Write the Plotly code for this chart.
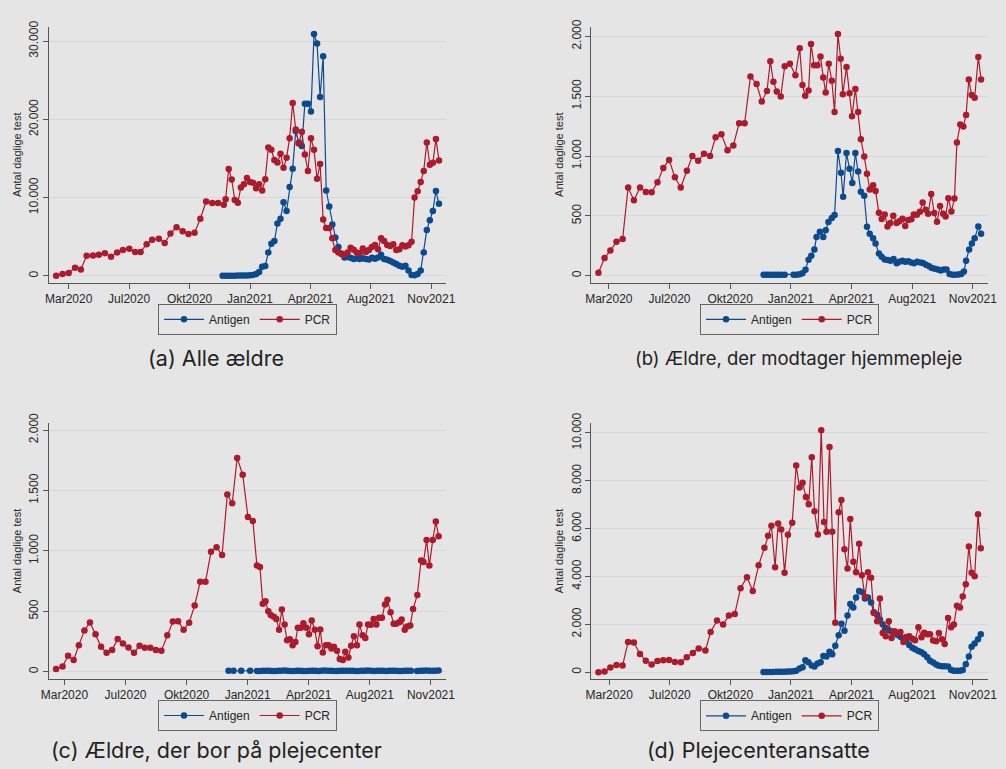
import plotly.graph_objects as go

# ---------------- data (period index on a common time scale) ----------------
TICK_POS = [0.5, 20.33, 40.17, 60.0, 79.83, 99.67, 119.5]
TICK_TXT = ["Mar2020", "Jul2020", "Okt2020", "Jan2021", "Apr2021", "Aug2021", "Nov2021"]
SERIES_NAMES = ["Antigen", "PCR"]
Y_TITLE = "Antal daglige test"
CAPTIONS = ["(a) Alle ældre", "(b) Ældre, der modtager hjemmepleje",
            "(c) Ældre, der bor på plejecenter", "(d) Plejecenteransatte"]

# (a) Alle ældre
ag_a_x = list(range(51, 123))
ag_a = [30, 30, 30, 30, 30, 40, 40, 50, 60, 80, 120, 250,
        500, 1150, 1250, 3000, 4100, 4450, 6700, 7300,
        9400, 8300, 11350, 13700, 18500, 17000, 16600, 22000, 22000, 21000,
        30900, 29700, 22850, 28050, 10900, 8850, 6550, 4900, 3700, 2800,
        2350, 2400, 2300, 2150, 2250, 2150, 2250, 2150, 2100, 2300,
        2200, 2350, 2700, 2150, 2050, 1900, 1720, 1500, 1300, 1180,
        1300, 670, 100, 80, 250, 700, 3000, 5850, 7100, 8300,
        10850, 9200]
pcr_a_x = [-3.6, -1.5, 0.5, 2.6, 4.5, 6.4, 8.5, 10.4, 12.4, 14.4, 16.4, 18.3, 20.4, 22.3,
           24.1, 26.1, 27.9, 30.1, 32.0, 33.9, 35.9, 37.9, 39.8, 41.8, 43.7, 45.6, 47.6,
           49.5, 51.4] + list(range(52, 123))
pcr_a = [0, 250, 380, 1050, 800, 2560, 2600, 2700, 2900, 2450, 3000, 3300, 3450, 3050,
         3050, 4050, 4600, 4750, 4200, 5400, 6200, 5700, 5350, 5500, 7300, 9500, 9300,
         9300, 9100,
         9800, 13650, 12300, 9700, 9350, 11300, 11700, 12500, 12000, 11900,
         11200, 11700, 10900, 12350, 16400, 16100, 14800, 14500, 15600, 13800,
         15100, 17600, 22100, 18700, 16900, 18400, 15500, 13400, 17600, 16100,
         12400, 14300, 7200, 6100, 6100, 4800, 3300, 3000, 2850, 2700,
         3000, 3600, 3350, 3000, 2900, 3500, 3050, 3300, 3700, 3950,
         3400, 4800, 4450, 3950, 3800, 4050, 3300, 3400, 3900, 3750,
         3900, 4350, 10000, 10800, 12000, 13400, 17050, 14200, 14450, 17500,
         14750]

# (b) Ældre, der modtager hjemmepleje
ag_b_x = [51.1, 52.1, 53.0, 54.0, 55.0, 55.9, 56.9, 58.0,
          60.9, 61.9, 62.9, 63.8, 64.8, 65.8, 66.7, 67.7, 68.4, 69.5,
          70.6, 71.4, 72.3, 73.4, 74.3, 75.4, 76.4, 77.1, 78.2, 79.2,
          80.1, 81.1, 82.0, 82.9, 84.0, 84.9, 85.8, 86.9, 87.7, 88.8,
          89.7, 90.7, 91.7, 92.6, 93.6, 94.6, 95.5, 96.5, 97.4, 98.4,
          99.4, 100.3, 101.3, 102.3, 103.2, 104.2, 105.2, 106.1, 107.1, 108.1,
          109.0, 110.0, 110.9, 111.9, 112.9, 113.8, 114.8, 115.7, 116.6, 117.3,
          118.3, 119.2, 120.1, 121.3, 122.2]
ag_b = [8, 8, 8, 8, 8, 8, 8, 8,
        8, 8, 14, 22, 50, 135, 167, 220, 324, 368,
        324, 381, 450, 483, 507, 1042, 861, 661, 1026, 894,
        776, 1026, 872, 702, 669, 409, 351, 313, 269, 187,
        159, 137, 132, 126, 140, 104, 118, 126, 118, 121,
        112, 104, 118, 112, 107, 93, 80, 66, 58, 52,
        44, 52, 52, 16, 8, 8, 11, 16, 36, 126,
        220, 269, 313, 411, 351]
pcr_b_x = [-2.9, -0.9, 1.0, 3.0, 5.0, 6.8, 8.7, 10.7, 12.6, 14.5,
           16.4, 18.3, 20.2, 22.1, 24.0, 26.0, 27.8, 29.7, 31.6, 33.6,
           35.4, 37.3, 39.3, 41.2, 43.1, 44.9, 46.8, 48.8, 50.5, 52.2,
           53.3, 54.3, 55.4, 56.7, 58.0, 59.7, 61.5, 62.9, 63.8, 64.7,
           65.8, 66.6, 67.6, 68.7, 69.7, 70.6, 71.4, 72.4, 73.4, 74.3,
           75.4, 76.3, 77.0, 78.2, 79.2, 80.0, 81.1, 82.0, 82.9, 84.0,
           84.9, 85.8, 86.9, 87.7, 88.8, 89.7, 90.7, 91.6, 92.5, 93.5,
           94.6, 95.5, 96.5, 97.4, 98.4, 99.4, 100.2, 101.2, 102.2, 103.1,
           104.1, 104.9, 105.9, 106.9, 107.8, 108.8, 109.8, 110.6, 111.5, 112.5,
           113.5, 114.3, 115.4, 116.4, 117.3, 118.2, 119.1, 120.1, 121.3, 122.2]
pcr_b = [25, 148, 211, 285, 307, 738, 631, 738, 700, 697,
         782, 900, 968, 823, 738, 878, 1001, 960, 1020, 1001,
         1157, 1182, 1048, 1089, 1275, 1275, 1665, 1602, 1456, 1544,
         1791, 1621, 1539, 1498, 1750, 1772, 1676, 1901, 1594, 1503,
         1547, 1937, 1758, 1758, 1832, 1657, 1531, 1772, 1629, 1369,
         2019, 1813, 1517, 1745, 1525, 1333, 1561, 1369, 1141, 996,
         853, 721, 757, 708, 527, 475, 513, 411, 442, 502,
         442, 455, 477, 417, 466, 472, 513, 510, 535, 612,
         551, 518, 683, 524, 452, 582, 518, 496, 647, 538,
         645, 1114, 1264, 1248, 1344, 1640, 1511, 1487, 1827, 1640]

# (c) Ældre, der bor på plejecenter
ag_c_x = [53.8, 55.4, 57.9, 60.8] + list(range(63, 114)) + list(range(115, 123))
ag_c = [8, 8, 8, 8,
        6, 7, 8, 8, 9, 7, 6, 8, 9, 10,
        8, 7, 7, 9, 8, 6, 7, 8, 9, 8,
        7, 8, 10, 9, 8, 7, 6, 8, 9, 8,
        8, 9, 7, 6, 8, 9, 10, 8, 7, 8,
        9, 8, 7, 8, 9, 8, 7, 6, 8, 9,
        8,
        7, 8, 9, 10, 9, 8, 9, 10]
pcr_c_x = [-2.2, -0.1, 1.7, 3.5, 5.2, 7.0, 8.8, 10.6, 12.4, 14.2,
           16.0, 17.8, 19.5, 21.3, 23.1, 24.9, 26.6, 28.4, 30.2, 32.0,
           33.9, 35.7, 37.4, 39.2, 41.0, 42.8, 44.6, 46.3, 48.1, 49.9,
           51.7, 53.4, 55.0, 56.6, 58.4, 60.1, 61.7, 63.0, 64.0, 64.9,
           65.8, 66.7, 67.5, 68.5, 69.3, 70.2, 71.1, 72.0, 72.8, 73.7,
           74.6, 75.5, 76.3, 77.3, 78.1, 79.1, 79.9, 80.8, 81.8, 82.7,
           83.6, 84.4, 85.4, 86.3, 87.2, 88.0, 89.0, 89.9, 90.9, 91.7,
           92.7, 93.6, 94.5, 95.5, 96.3, 97.3, 98.2, 99.1, 100.0, 100.9,
           101.8, 102.7, 103.6, 104.6, 105.4, 106.4, 107.4, 108.2, 109.2, 110.0,
           111.0, 111.8, 112.8, 113.7, 115.1, 116.3, 117.1, 118.1, 119.0, 120.1,
           121.1, 122.0]
pcr_c = [22, 43, 133, 98, 220, 342, 408, 310, 206, 158,
         179, 272, 234, 201, 158, 215, 198, 198, 179, 174,
         302, 416, 418, 348, 405, 549, 744, 744, 992, 1030,
         965, 1467, 1394, 1769, 1630, 1280, 1247, 880, 867, 562,
         584, 500, 470, 456, 437, 348, 514, 391, 261, 269,
         220, 247, 364, 364, 402, 364, 310, 424, 348, 212,
         350, 160, 220, 220, 193, 206, 174, 106, 98, 166,
         117, 215, 293, 220, 391, 302, 280, 391, 389, 437,
         391, 446, 446, 557, 595, 492, 397, 397, 410, 432,
         348, 375, 383, 519, 636, 921, 907, 1090, 880, 1090,
         1242, 1122]

# (d) Plejecenteransatte
ag_d_x = [51.0, 52.0, 53.0, 53.9, 55.0, 56.0, 56.9, 57.9, 58.9, 59.8, 60.8,
          61.7, 62.8, 63.8, 64.7, 65.7, 66.8, 67.7, 68.7, 69.7,
          70.6, 71.6, 72.6, 73.5, 74.5, 75.6, 76.5, 77.5, 78.5, 79.4,
          80.4, 81.3, 82.3, 83.2, 84.2, 85.2, 86.2, 87.1,
          88.2, 89.1, 90.0, 91.0, 92.0, 92.9, 93.9, 94.8, 95.8, 96.8,
          97.7, 98.7, 99.7, 100.6, 101.7, 102.7, 103.6, 104.6, 105.5, 106.5,
          107.5, 108.4, 109.4, 110.3, 111.4, 112.4, 113.3, 114.3, 115.3, 116.2,
          117.2, 118.2, 119.1, 120.1, 121.2, 122.1]
ag_d = [10, 10, 10, 10, 15, 15, 15, 20, 25, 30, 40,
        60, 150, 205, 500, 410, 275, 240, 357, 410,
        675, 650, 850, 750, 1100, 1540, 2020, 1730, 2365, 2845,
        2705, 3120, 3395, 3355, 3080, 3120, 2910, 2500,
        2400, 2200, 2000, 1850, 1750, 1700, 1650, 1560, 1480, 1400,
        1300, 1130, 1020, 960, 880, 830, 750, 620, 480, 400,
        320, 270, 250, 245, 240, 90, 55, 55, 60, 90,
        330, 650, 1060, 1200, 1380, 1580]
pcr_d_x = [-3.0, -1.0, 0.9, 2.9, 4.9, 6.7, 8.6, 10.6, 12.5, 14.4,
           16.3, 18.2, 20.1, 22.0, 24.0, 25.9, 27.9, 29.8, 32.0,
           33.7, 35.8, 37.8, 39.7, 41.6, 43.5, 45.6, 47.5, 49.4, 51.3,
           52.5, 53.6, 54.8, 55.8, 56.8, 57.9, 59.0, 60.4, 61.7, 62.8,
           63.8, 64.9, 65.8, 66.8, 67.7, 68.8, 69.9, 70.8, 71.6, 72.6,
           73.5, 74.5, 75.6, 76.5, 77.5, 78.5, 79.4, 80.4, 81.3, 82.3,
           83.2, 84.2, 85.2, 86.2, 87.1, 88.2, 89.1, 90.0, 91.0, 92.0,
           92.9, 93.9, 94.8, 95.8, 96.8, 97.7, 98.7, 99.7, 100.6, 101.7,
           102.7, 103.6, 104.6, 105.5, 106.5, 107.5, 108.4, 109.4, 110.3, 111.4,
           112.4, 113.3, 114.3, 115.3, 116.2, 117.2, 118.2, 119.1, 120.1, 121.2,
           122.1]
pcr_d = [0, 30, 190, 300, 275, 1265, 1235, 755, 480, 315,
         465, 495, 510, 425, 410, 620, 800, 990, 905,
         1675, 2155, 1990, 2365, 2430, 3505, 3970, 3395, 4465, 5195,
         5700, 6115, 4385, 6210, 5965, 4150, 5745, 6250, 8640, 7720,
         7915, 7325, 7020, 8985, 6730, 5755, 10110, 6280, 5865, 9410,
         5865, 2060, 6680, 7200, 5140, 4330, 6400, 4615, 4175, 5370,
         4055, 3150, 4175, 3945, 2475, 2130, 3080, 1635, 1500, 2130,
         1430, 1705, 1635, 1675, 1265, 1470, 1500, 1400, 1330, 1880,
         1455, 1650, 1580, 1580, 1320, 1290, 1635, 1375, 1180, 2265,
         1880, 1990, 2775, 2705, 3160, 3670, 5250, 4150, 4010, 6595,
         5180]

for xs, ys in [(ag_a_x, ag_a), (pcr_a_x, pcr_a), (ag_b_x, ag_b), (pcr_b_x, pcr_b),
               (ag_c_x, ag_c), (pcr_c_x, pcr_c), (ag_d_x, ag_d), (pcr_d_x, pcr_d)]:
    assert len(xs) == len(ys), (len(xs), len(ys))

# ---------------- styling ----------------
BG = "#e5e5e5"
GRID = "#d3d9da"
AXIS = "#555555"
TXT = "#262626"
BLUE = "#0c4a8e"
RED = "#ad1a2c"
FONT = "Liberation Sans, Arial, sans-serif"

panels = [
    dict(n="", xdom=[0.0415, 0.4430], ydom=[0.6415, 0.9792], xr=[-5.95, 124.2],
         yr=[-880, 31830], dtick=10000, ag=(ag_a_x, ag_a), pcr=(pcr_a_x, pcr_a),
         leg=(0.2424, 0.5932), cap=(0.2105, 0.5423), capsize=21.5),
    dict(n="2", xdom=[0.5905, 0.9917], ydom=[0.6415, 0.9792], xr=[-5.2, 124.4],
         yr=[-58, 2080], dtick=500, ag=(ag_b_x, ag_b), pcr=(pcr_b_x, pcr_b),
         leg=(0.7910, 0.5932), cap=(0.7997, 0.5423), capsize=18.5),
    dict(n="3", xdom=[0.0415, 0.4430], ydom=[0.1192, 0.4560], xr=[-4.5, 124.3],
         yr=[-57, 2055], dtick=500, ag=(ag_c_x, ag_c), pcr=(pcr_c_x, pcr_c),
         leg=(0.2424, 0.0706), cap=(0.2107, 0.0247), capsize=21.5),
    dict(n="4", xdom=[0.5905, 0.9917], ydom=[0.1192, 0.4560], xr=[-5.3, 124.4],
         yr=[-272, 10400], dtick=2000, ag=(ag_d_x, ag_d), pcr=(pcr_d_x, pcr_d),
         leg=(0.7910, 0.0702), cap=(0.7594, 0.0247), capsize=21.5),
]

fig = go.Figure()
layout = dict(
    width=1006, height=769, margin=dict(l=0, r=0, t=0, b=0),
    paper_bgcolor=BG, plot_bgcolor=BG, separators=",.",
    font=dict(family=FONT, size=12, color=TXT), showlegend=True,
    annotations=[],
)

for i, p in enumerate(panels):
    n = p["n"]
    legname = "legend" + n
    for name, (xs, ys), col in [(SERIES_NAMES[0], p["ag"], BLUE), (SERIES_NAMES[1], p["pcr"], RED)]:
        fig.add_trace(go.Scatter(
            x=xs, y=ys, name=name, mode="lines+markers",
            line=dict(color=col, width=1.2),
            marker=dict(color=col, size=6.5),
            xaxis="x" + n, yaxis="y" + n, legend=legname,
        ))
    layout["xaxis" + n] = dict(
        domain=p["xdom"], range=p["xr"], anchor="y" + n,
        tickmode="array", tickvals=TICK_POS, ticktext=TICK_TXT,
        showgrid=False, zeroline=False, showline=True, linecolor=AXIS, linewidth=1,
        ticks="outside", ticklen=5, tickcolor=AXIS, tickfont=dict(size=12, color=TXT),
    )
    layout["yaxis" + n] = dict(
        domain=p["ydom"], range=p["yr"], anchor="x" + n,
        tickmode="linear", tick0=0, dtick=p["dtick"], tickformat=",d",
        tickangle=-90, showgrid=True, gridcolor=GRID, gridwidth=1,
        zeroline=False, showline=True, linecolor=AXIS, linewidth=1,
        ticks="outside", ticklen=5, tickcolor=AXIS, tickfont=dict(size=12, color=TXT),
        title=dict(text=Y_TITLE, font=dict(size=11, color=TXT), standoff=3),
    )
    layout[legname] = dict(
        orientation="h", x=p["leg"][0], y=p["leg"][1], xanchor="center", yanchor="middle",
        bgcolor=BG, bordercolor="#666666", borderwidth=1,
        font=dict(size=12, color=TXT), itemwidth=40,
    )
    layout["annotations"].append(dict(
        text=CAPTIONS[i], x=p["cap"][0], y=p["cap"][1], xref="paper", yref="paper",
        xanchor="center", yanchor="middle", showarrow=False,
        font=dict(family="Inter, Roboto, sans-serif", size=p["capsize"], color="#222222"),
    ))

fig.update_layout(**layout)
fig.write_html("out.html", config={"displayModeBar": False},
               post_script="document.body.style.margin='0';")
